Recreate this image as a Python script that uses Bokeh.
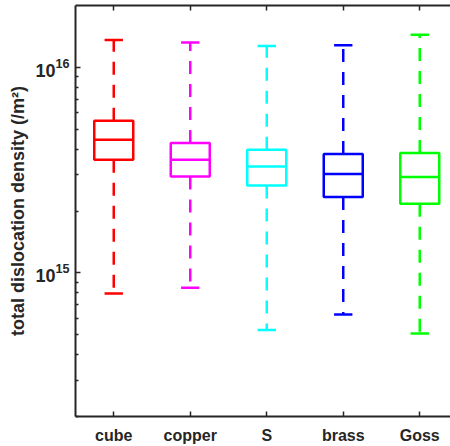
from bokeh.plotting import figure
from bokeh.models import LinearAxis, FixedTicker, Range1d, ColumnDataSource, LogTickFormatter
from bokeh.embed import file_html
from bokeh.resources import INLINE

categories = ["cube", "copper", "S", "brass", "Goss"]
colors = ["#FF0000", "#FF00FF", "#00FFFF", "#0000FF", "#00FF00"]
upper_whisker = [1.36e16, 1.32e16, 1.27e16, 1.28e16, 1.44e16]
q3 = [5.50e15, 4.28e15, 3.97e15, 3.79e15, 3.83e15]
median = [4.44e15, 3.55e15, 3.29e15, 3.03e15, 2.93e15]
q1 = [3.55e15, 2.94e15, 2.66e15, 2.34e15, 2.17e15]
lower_whisker = [7.94e14, 8.46e14, 5.27e14, 6.28e14, 5.07e14]
y_major_ticks = [1e15, 1e16]
y_minor_ticks = [2e14, 3e14, 4e14, 5e14, 6e14, 7e14, 8e14, 9e14,
                 2e15, 3e15, 4e15, 5e15, 6e15, 7e15, 8e15, 9e15]

FONT = "Liberation Sans"
TXT = "#262626"

pos = [i + 1 for i in range(len(categories))]
box_half = 0.255
cap_half = 0.12

src = ColumnDataSource(dict(
    x=pos,
    left=[x - box_half for x in pos], right=[x + box_half for x in pos],
    cl=[x - cap_half for x in pos], cr=[x + cap_half for x in pos],
    uw=upper_whisker, q3=q3, med=median, q1=q1, lw=lower_whisker, color=colors,
))

p = figure(width=450, height=446, y_axis_type="log",
           x_range=Range1d(0.5, 5.402), y_range=Range1d(2e14, 2e16),
           output_backend="svg", toolbar_location=None,
           min_border_left=75, min_border_right=0, min_border_top=5, min_border_bottom=30)
p.outline_line_color = None
p.xgrid.visible = False
p.ygrid.visible = False
p.background_fill_color = "white"

# whiskers (dashed)
p.segment(x0="x", y0="q3", x1="x", y1="uw", source=src, line_color="color", line_width=2.5, line_dash="13 10")
p.segment(x0="x", y0="q1", x1="x", y1="lw", source=src, line_color="color", line_width=2.5, line_dash="13 10")
# caps
p.segment(x0="cl", y0="uw", x1="cr", y1="uw", source=src, line_color="color", line_width=2.5)
p.segment(x0="cl", y0="lw", x1="cr", y1="lw", source=src, line_color="color", line_width=2.5)
# boxes
p.quad(left="left", right="right", bottom="q1", top="q3", source=src, fill_color=None,
       line_color="color", line_width=2.5)
# medians
p.segment(x0="left", y0="med", x1="right", y1="med", source=src, line_color="color", line_width=2.5)

xa = p.xaxis[0]
xa.ticker = FixedTicker(ticks=pos)
xa.major_label_overrides = {x: c for x, c in zip(pos, categories)}
xa.major_tick_in = 5
xa.major_tick_out = 0
xa.minor_tick_line_color = None
xa.axis_line_width = 2
xa.axis_line_color = TXT
xa.major_tick_line_color = TXT
xa.major_tick_line_width = 1.5
xa.major_label_text_font = FONT
xa.major_label_text_font_style = "bold"
xa.major_label_text_font_size = "16px"
xa.major_label_text_color = TXT
xa.major_label_standoff = 10

top = LinearAxis(ticker=FixedTicker(ticks=pos), major_label_text_font_size="0px",
                 major_label_standoff=0, major_tick_in=5, major_tick_out=0,
                 minor_tick_line_color=None, axis_line_width=2, axis_line_color=TXT,
                 major_tick_line_color=TXT, major_tick_line_width=1.5)
top.major_label_overrides = {x: "" for x in pos}
p.add_layout(top, "above")

ya = p.yaxis[0]
ya.ticker = FixedTicker(ticks=y_major_ticks, minor_ticks=y_minor_ticks)
ya.formatter = LogTickFormatter()
ya.axis_label = "total dislocation density (/m²)"
ya.axis_label_text_font = FONT
ya.axis_label_text_font_style = "bold"
ya.axis_label_text_font_size = "18px"
ya.axis_label_text_color = TXT
ya.axis_label_standoff = 4
ya.major_tick_in = 5
ya.major_tick_out = 0
ya.minor_tick_in = 3
ya.minor_tick_out = 0
ya.axis_line_width = 2
ya.axis_line_color = TXT
ya.major_tick_line_color = TXT
ya.minor_tick_line_color = TXT
ya.major_tick_line_width = 1.5
ya.minor_tick_line_width = 1.5
ya.major_label_text_font = FONT
ya.major_label_text_font_style = "bold"
ya.major_label_text_font_size = "18px"
ya.major_label_text_color = TXT
ya.major_label_standoff = 6

open("out.html", "w").write(file_html(p, INLINE))
